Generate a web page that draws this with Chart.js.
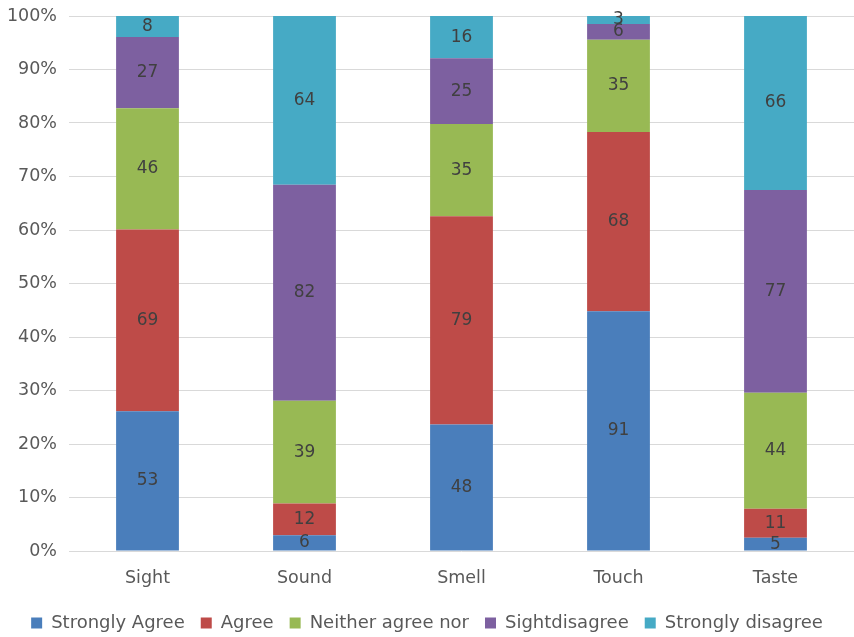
<!DOCTYPE html>
<html>
<head>
<meta charset="utf-8">
<script src="https://cdn.jsdelivr.net/npm/chart.js@4/dist/chart.umd.min.js"></script>
<style>
  html, body { margin: 0; padding: 0; background: #ffffff; }
  #wrap { width: 854px; height: 637px; position: relative; }
</style>
</head>
<body>
<div id="wrap"><canvas id="c"></canvas></div>
<script>
// Survey responses per sense (counts)
const categories = ['Sight', 'Sound', 'Smell', 'Touch', 'Taste'];
const seriesNames = ['Strongly Agree', 'Agree', 'Neither agree nor', 'Sightdisagree', 'Strongly disagree'];
const stronglyAgree    = [53, 6, 48, 91, 5];
const agree            = [69, 12, 79, 68, 11];
const neither          = [46, 39, 35, 35, 44];
const slightDisagree   = [27, 82, 25, 6, 77];
const stronglyDisagree = [8, 64, 16, 3, 66];
const yTicks = [0, 10, 20, 30, 40, 50, 60, 70, 80, 90, 100];

const counts = [stronglyAgree, agree, neither, slightDisagree, stronglyDisagree];
const colors = ['#4a7ebb', '#be4b48', '#98b954', '#7d60a0', '#46aac5'];

const totals = categories.map((_, i) => counts.reduce((s, arr) => s + arr[i], 0));

const datasets = counts.map((arr, k) => ({
  label: seriesNames[k],
  data: arr.map((v, i) => v / totals[i] * 100),
  counts: arr,
  backgroundColor: colors[k],
  borderWidth: 0,
  barPercentage: 0.4,
  categoryPercentage: 1.0
}));

const FONT = '"DejaVu Sans", sans-serif';

// Writes the raw count in the middle of each stacked segment
const countLabels = {
  id: 'countLabels',
  afterDatasetsDraw(chart) {
    const ctx = chart.ctx;
    ctx.save();
    ctx.font = '17px ' + FONT;
    ctx.fillStyle = '#404040';
    ctx.textAlign = 'center';
    ctx.textBaseline = 'middle';
    chart.data.datasets.forEach((ds, k) => {
      const meta = chart.getDatasetMeta(k);
      meta.data.forEach((bar, i) => {
        const y = (bar.y + bar.base) / 2;
        ctx.fillText(String(ds.counts[i]), bar.x, y);
      });
    });
    ctx.restore();
  }
};

Chart.defaults.font.family = FONT;
Chart.defaults.color = '#595959';

new Chart(document.getElementById('c'), {
  type: 'bar',
  data: { labels: categories, datasets },
  options: {
    responsive: true,
    maintainAspectRatio: false,
    animation: false,
    layout: { padding: { top: 16, right: 0, left: 0, bottom: -5 } },
    scales: {
      x: {
        stacked: true,
        afterFit(scale) { scale.height = 47; },
        grid: { display: false },
        border: { display: false },
        ticks: { font: { size: 17.5 }, color: '#595959', padding: 9 }
      },
      y: {
        stacked: true,
        min: 0,
        max: 100,
        afterBuildTicks(scale) { scale.ticks = yTicks.map(v => ({ value: v })); },
        afterFit(scale) { scale.width = 69; scale.paddingTop = 0; scale.paddingBottom = 0; },
        grid: { color: '#d9d9d9', lineWidth: 1, drawTicks: false },
        border: { display: false },
        ticks: {
          font: { size: 17.5 },
          color: '#595959',
          padding: 12,
          callback: v => v + '%'
        }
      }
    },
    plugins: {
      legend: {
        position: 'bottom',
        labels: {
          boxWidth: 11,
          boxHeight: 11,
          padding: 16,
          font: { size: 18 },
          color: '#595959'
        }
      },
      tooltip: { enabled: false }
    }
  },
  plugins: [countLabels]
});
</script>
</body>
</html>
